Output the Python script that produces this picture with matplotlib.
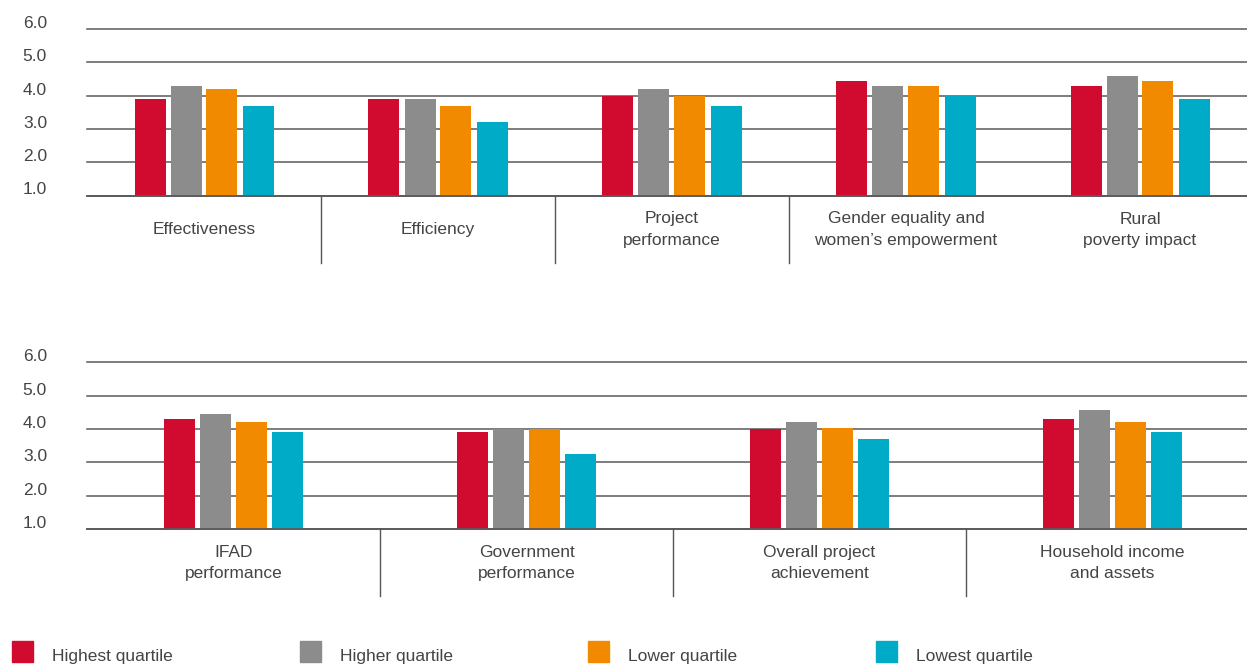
import matplotlib
matplotlib.use("Agg")
import matplotlib.pyplot as plt
import matplotlib.transforms as mtransforms
from matplotlib.patches import Rectangle

plt.rcParams['font.family'] = ['Liberation Sans', 'DejaVu Sans']

series_names = ["Highest quartile", "Higher quartile", "Lower quartile", "Lowest quartile"]
colors = ["#D10A2F", "#8C8C8C", "#F28A00", "#00ABC7"]

top_categories = ["Effectiveness", "Efficiency", "Project\nperformance",
                  "Gender equality and\nwomen\u2019s empowerment", "Rural\npoverty impact"]
top_highest = [3.9, 3.9, 4.0, 4.45, 4.3]
top_higher = [4.3, 3.9, 4.2, 4.3, 4.6]
top_lower = [4.2, 3.7, 4.0, 4.3, 4.45]
top_lowest = [3.7, 3.2, 3.7, 4.0, 3.9]

bot_categories = ["IFAD\nperformance", "Government\nperformance",
                  "Overall project\nachievement", "Household income\nand assets"]
bot_highest = [4.3, 3.9, 4.0, 4.3]
bot_higher = [4.45, 4.0, 4.2, 4.57]
bot_lower = [4.2, 4.0, 4.03, 4.21]
bot_lowest = [3.9, 3.25, 3.7, 3.9]

yticks = [1.0, 2.0, 3.0, 4.0, 5.0, 6.0]

W, H = 1247, 666
fig = plt.figure(figsize=(W / 100, H / 100), dpi=100)

text_color = "#444444"
grid_color = "#5a5a5a"


def draw_panel(rect_px, categories, series, cat_px, n_dividers):
    x0, y_top, x1, y_bot = rect_px
    ax = fig.add_axes([x0 / W, (H - y_bot) / H, (x1 - x0) / W, (y_bot - y_top) / H])
    n = len(categories)
    ax.set_xlim(0, n)
    ax.set_ylim(1, 6)
    for s in ax.spines.values():
        s.set_visible(False)
    ax.set_xticks([])
    ax.set_yticks([])
    ax.patch.set_alpha(0)
    bw = 31 / cat_px
    step = 36 / cat_px
    for k, (vals, col) in enumerate(zip(series, colors)):
        xs = [i + 0.5 + (k - 1.5) * step for i in range(n)]
        ax.bar(xs, [v - 1 for v in vals], bottom=1, width=bw, color=col, zorder=2)
    for t in yticks:
        ax.axhline(t, color=grid_color, lw=1.1, zorder=1, clip_on=False)
        off = mtransforms.ScaledTranslation(0, 0.055, fig.dpi_scale_trans)
        ax.text((47 - x0) / (x1 - x0), t, f"{t:.1f}", ha="right", va="center",
                fontsize=12.5, color=text_color,
                transform=ax.get_yaxis_transform() + off)
    ax.axhline(1, color=grid_color, lw=1.3, zorder=3, clip_on=False)
    trans = mtransforms.blended_transform_factory(ax.transData, ax.transAxes)
    h = y_bot - y_top
    for i in range(1, n_dividers + 1):
        ax.plot([i, i], [0, -67 / h], color="#555555", lw=1, transform=trans, clip_on=False)
    for i, c in enumerate(categories):
        ax.text(i + 0.5, -34 / h, c, ha="center", va="center", fontsize=12.5,
                color=text_color, transform=trans, linespacing=1.5)
    return ax


draw_panel((87, 29, 1257, 195.5), top_categories,
           [top_highest, top_higher, top_lower, top_lowest], 234, 3)
draw_panel((87, 362.3, 1259, 529), bot_categories,
           [bot_highest, bot_higher, bot_lower, bot_lowest], 293, 3)

for k, (name, col) in enumerate(zip(series_names, colors)):
    lx = 12 + k * 288
    fig.patches.append(Rectangle((lx / W, (H - 662) / H), 21 / W, 21 / H,
                                 color=col, transform=fig.transFigure, figure=fig))
    fig.text((lx + 40) / W, (H - 656) / H, name, ha="left", va="center",
             fontsize=12.5, color=text_color)

fig.savefig("out.png", dpi=100)
